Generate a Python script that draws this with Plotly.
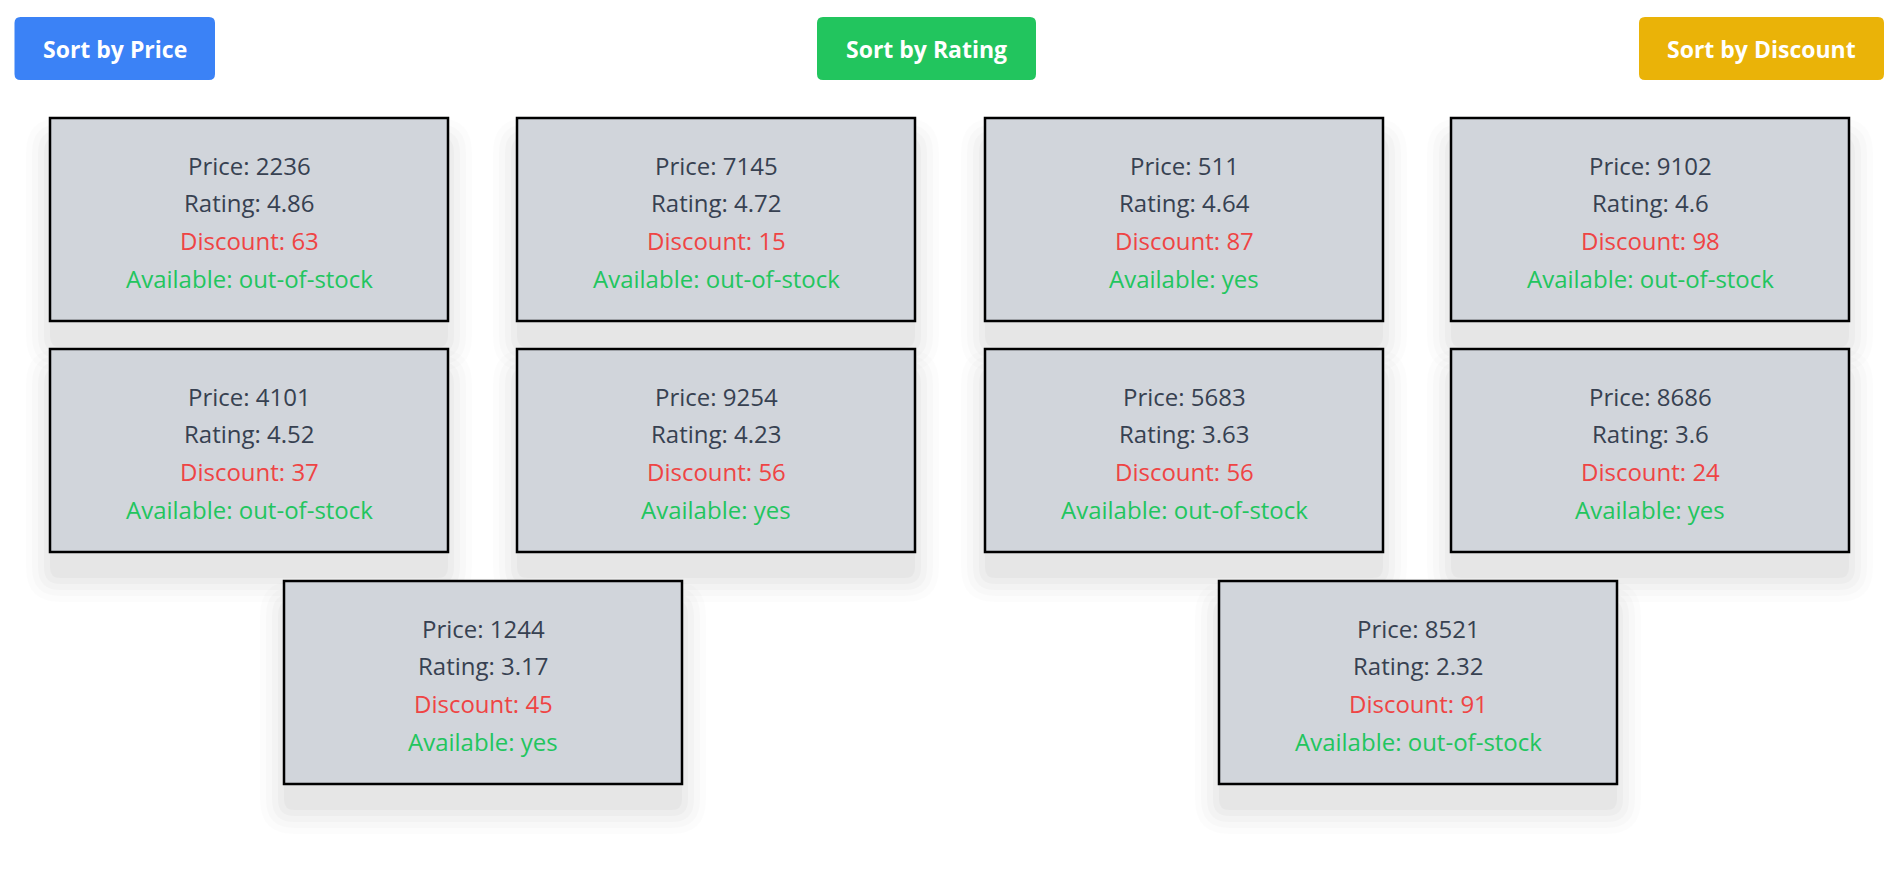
import plotly.graph_objects as go

prices = [2236, 7145, 511, 9102, 4101, 9254, 5683, 8686, 1244, 8521]
ratings = ["4.86", "4.72", "4.64", "4.6", "4.52", "4.23", "3.63", "3.6", "3.17", "2.32"]
discounts = [63, 15, 87, 98, 37, 56, 56, 24, 45, 91]
available = ["out-of-stock", "out-of-stock", "yes", "out-of-stock", "out-of-stock",
             "yes", "out-of-stock", "yes", "yes", "out-of-stock"]
buttons = ["Sort by Price", "Sort by Rating", "Sort by Discount"]
button_colors = ["#3b82f6", "#22c55e", "#eab308"]

W, H = 1894, 874
OFF = 8
fig = go.Figure()
fig.add_trace(go.Scatter(x=[0], y=[0], mode="markers", marker=dict(opacity=0), hoverinfo="skip", showlegend=False))

def rrect(x0, y0, x1, y1, r):
    x0, x1, y0, y1 = x0 - OFF, x1 - OFF, y0 - OFF, y1 - OFF
    return (f"M{x0+r},{y0} L{x1-r},{y0} Q{x1},{y0} {x1},{y0+r} L{x1},{y1-r} Q{x1},{y1} {x1-r},{y1} "
            f"L{x0+r},{y1} Q{x0},{y1} {x0},{y1-r} L{x0},{y0+r} Q{x0},{y0} {x0+r},{y0} Z")

shapes, anns = [], []
btn_x = [(14.5, 215), (817, 1036), (1639, 1884)]
for (x0, x1), t, c in zip(btn_x, buttons, button_colors):
    shapes.append(dict(type="path", path=rrect(x0, 17, x1, 80, 6), fillcolor=c, line=dict(width=0), layer="above"))
    anns.append(dict(x=(x0 + x1) / 2 - OFF, y=49 - OFF, text=f"<b>{t}</b>", showarrow=False,
                     font=dict(family="Open Sans", size=23, color="white")))

col_x = [50, 517, 985, 1451]
row_y = [118, 349, 581]
third_x = [284, 1219]
cw, ch = 398, 203
for i in range(len(prices)):
    if i < 8:
        x0, y0 = col_x[i % 4], row_y[i // 4]
    else:
        x0, y0 = third_x[i - 8], row_y[2]
    for k, op in enumerate([0.012, 0.016, 0.02, 0.024, 0.028]):
        g = 30 - k * 6
        shapes.append(dict(type="path", path=rrect(x0 - g + 6, y0 - g + 30, x0 + cw + g - 6, y0 + ch + g + 20, g + 4),
                           fillcolor=f"rgba(0,0,0,{op})", line=dict(width=0), layer="below"))
    shapes.append(dict(type="rect", x0=x0 - OFF, y0=y0 - OFF, x1=x0 + cw - OFF, y1=y0 + ch - OFF, fillcolor="#d1d5db",
                       line=dict(color="black", width=2.5), layer="below"))
    cx = x0 + cw / 2 - OFF
    lines = [(f"Price: {prices[i]}", "#374151"), (f"Rating: {ratings[i]}", "#374151"),
             (f"Discount: {discounts[i]}", "#ef4444"), (f"Available: {available[i]}", "#22c55e")]
    for j, (t, c) in enumerate(lines):
        anns.append(dict(x=cx, y=y0 + 47 + j * 37.7 - OFF, text=t, showarrow=False,
                         font=dict(family="Open Sans", size=24, color=c)))

fig.update_layout(width=W, height=H, margin=dict(l=0, r=0, t=0, b=0),
                  paper_bgcolor="white", plot_bgcolor="white",
                  xaxis=dict(range=[0, W], visible=False, fixedrange=True),
                  yaxis=dict(range=[H, 0], visible=False, fixedrange=True),
                  shapes=shapes, annotations=anns, showlegend=False)
fig.write_html("out.html")
